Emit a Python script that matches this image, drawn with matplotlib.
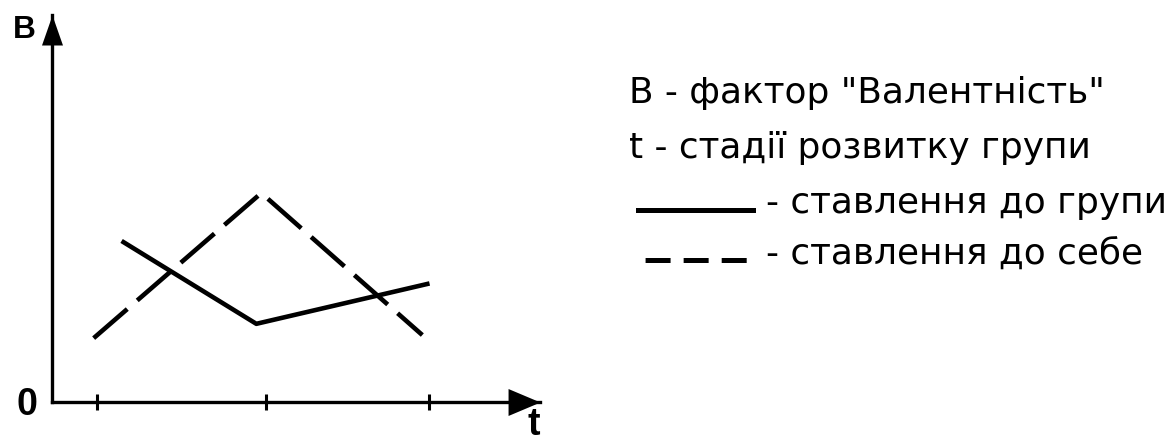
import matplotlib
matplotlib.use("Agg")
import matplotlib.pyplot as plt
from matplotlib.lines import Line2D

plt.rcParams["font.family"] = ["Liberation Sans", "DejaVu Sans"]
plt.rcParams["lines.scale_dashes"] = False

# stages (t) and factor values (B)
group_t = [1.16, 1.96, 2.99]
group_b = [4.13, 2.02, 3.05]
self_t = [0.98, 1.99, 2.96]
self_b = [1.65, 5.40, 1.73]
stage_ticks = [1, 2.02, 3]

y_label = "В"
x_label = "t"
origin_label = "0"
notes = ['В - фактор "Валентність"', "t - стадії розвитку групи"]
legend_labels = ["- ставлення до групи", "- ставлення до себе"]

W, H = 1170, 444
fig = plt.figure(figsize=(W / 100, H / 100), dpi=100)
ax = fig.add_axes([52 / W, 42 / H, 488 / W, 387 / H])

ax.plot(group_t, group_b, color="k", lw=3.3, solid_joinstyle="round")
ax.plot(self_t, self_b, color="k", lw=3.3, dashes=(32, 9.5))

ax.set_xlim(0.729, 3.669)
ax.set_ylim(0, 10)
for s in ("top", "right"):
    ax.spines[s].set_visible(False)
for s in ("left", "bottom"):
    ax.spines[s].set_linewidth(2.4)
ax.set_xticks(stage_ticks)
ax.set_xticklabels([])
ax.set_yticks([])
ax.tick_params(axis="x", direction="inout", length=12, width=2.2)

# arrow heads at the axis ends
x_head = [(0, 0), (-32, 13.5), (-32, -13.5)]
y_head = [(0, 0), (-10.5, -30), (10.5, -30)]
ax.plot(1, 0, marker=x_head, ms=46, mew=0, color="k", transform=ax.transAxes, clip_on=False)
ax.plot(0, 1, marker=y_head, ms=43.2, mew=0, color="k", transform=ax.transAxes, clip_on=False)

fig.text(13 / W, 1 - 38 / H, y_label, fontsize=22.8, fontweight="bold", va="baseline")
fig.text(16 / W, 1 - 415 / H, origin_label, fontsize=27, fontweight="bold", va="baseline")
fig.text(527 / W, 1 / H, x_label, fontsize=27, fontweight="bold", va="bottom")

note_font = dict(family="DejaVu Sans", size=25.8)
fig.text(629 / W, 1 - 103 / H, notes[0], fontdict=note_font, va="baseline")
fig.text(629 / W, 1 - 158 / H, notes[1], fontdict=note_font, va="baseline")

# legend keys only; their captions sit a little lower, as in the picture
handles = [Line2D([], [], color="k", lw=3.6),
           Line2D([], [], color="k", lw=3.6, linestyle=(22.3, (18, 9.4)))]
ax.legend(handles=handles, labels=["", ""], loc="upper left",
          bbox_to_anchor=(638 / W, 1 - 196 / H), bbox_transform=fig.transFigure,
          frameon=False, prop=note_font, handlelength=3.21,
          handletextpad=0, borderpad=0, borderaxespad=0, labelspacing=0.44)
fig.text(766 / W, 1 - 213 / H, legend_labels[0], fontdict=note_font, va="baseline")
fig.text(766 / W, 1 - 264 / H, legend_labels[1], fontdict=note_font, va="baseline")

fig.savefig("out.png", dpi=100)
